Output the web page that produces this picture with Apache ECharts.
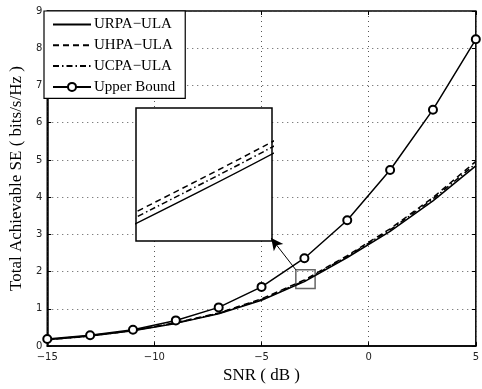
<!DOCTYPE html>
<html>
<head>
<meta charset="utf-8">
<script src="https://cdn.jsdelivr.net/npm/echarts@6/dist/echarts.min.js"></script>
<style>
  html, body { margin: 0; padding: 0; background: #fff; }
  #chart { width: 482px; height: 389px; }
</style>
</head>
<body>
<div id="chart"></div>
<script>
// values, SNR in dB
const snr = [-15, -13, -11, -9, -7, -5, -3, -1, 1, 3, 5];
const urpa = [0.17, 0.27, 0.41, 0.61, 0.87, 1.23, 1.73, 2.38, 3.08, 3.90, 4.84];
const uhpa = [0.17, 0.28, 0.42, 0.63, 0.89, 1.27, 1.775, 2.43, 3.15, 3.99, 4.96];
const ucpa = [0.17, 0.27, 0.42, 0.62, 0.88, 1.25, 1.755, 2.41, 3.12, 3.95, 4.90];
const upper = [0.19, 0.29, 0.44, 0.69, 1.04, 1.59, 2.36, 3.38, 4.73, 6.35, 8.24];

const names = ['URPA\u2212ULA', 'UHPA\u2212ULA', 'UCPA\u2212ULA', 'Upper Bound'];
const xTicks = [-15, -10, -5, 0, 5];
const yTicks = [0, 1, 2, 3, 4, 5, 6, 7, 8, 9];

// zoomed region shown in the inset
const zoomX = [-3.4, -2.5];
const zoomY = [1.55, 2.05];
const insetCorner = [-4.55, 2.9];

const serif = 'Liberation Serif';
const sans = 'DejaVu Sans';

const pairs = (ys) => snr.map((x, i) => [x, ys[i]]);
const minus = (v) => String(v).replace('-', '\u2212');

const dashes = ['solid', [6, 4], [6, 3, 1.5, 3], 'solid'];
const sets = [urpa, uhpa, ucpa, upper];

const myChart = echarts.init(document.getElementById('chart'));

const mainSeries = sets.map((ys, i) => ({
  name: names[i],
  type: 'line',
  xAxisIndex: 0,
  yAxisIndex: 0,
  data: pairs(ys),
  symbol: i === 3 ? 'emptyCircle' : 'none',
  symbolSize: 8,
  itemStyle: { color: '#000', borderWidth: 1.4 },
  lineStyle: { color: '#000', width: 1.5, type: dashes[i] },
  z: 2,
}));

// zoom box and arrow, attached to the first series
mainSeries[0].markArea = {
  silent: true,
  itemStyle: { color: 'rgba(0,0,0,0)', borderColor: '#666', borderWidth: 1.5 },
  data: [[{ coord: [zoomX[0], zoomY[1]] }, { coord: [zoomX[1], zoomY[0]] }]],
};
mainSeries[0].markLine = {
  silent: true,
  symbol: ['none', 'arrow'],
  symbolSize: [9, 12],
  label: { show: false },
  lineStyle: { color: '#000', width: 1, type: 'solid' },
  data: [[{ coord: [zoomX[0], zoomY[1]] }, { coord: insetCorner }]],
};

const insetSeries = sets.slice(0, 3).map((ys, i) => ({
  name: names[i],
  type: 'line',
  xAxisIndex: 2,
  yAxisIndex: 2,
  data: pairs(ys),
  symbol: 'none',
  smooth: 0.5,
  clip: true,
  lineStyle: { color: '#000', width: 1.5, type: dashes[i] },
  z: 6,
}));

const legendData = names.map((n, i) => (
  i === 3 ? { name: n } : { name: n, itemStyle: { opacity: 0 } }
));

const option = {
  animation: false,
  backgroundColor: '#fff',
  grid: [
    {
      left: 43, right: 1, top: 11, bottom: 39,
      show: true, borderColor: '#000', borderWidth: 1.5,
    },
    {
      left: 136, top: 108, width: 136, height: 133,
      show: true, backgroundColor: '#fff', borderColor: '#000', borderWidth: 1.5,
      z: 4,
    },
  ],
  legend: {
    data: legendData,
    orient: 'vertical',
    left: 44,
    top: 11,
    padding: [6, 10, 4, 8],
    itemWidth: 38,
    itemHeight: 10,
    itemGap: 5.8,
    backgroundColor: '#fff',
    borderColor: '#000',
    borderWidth: 1.2,
    borderRadius: 0,
    selectedMode: false,
    textStyle: { fontFamily: serif, fontSize: 15, color: '#000', padding: [0, 0, 0, -2] },
    z: 10,
  },
  xAxis: [
    {
      type: 'value',
      gridIndex: 0,
      min: xTicks[0],
      max: xTicks[xTicks.length - 1],
      interval: 5,
      name: 'SNR ( dB )',
      nameLocation: 'middle',
      nameGap: 19,
      nameTextStyle: { fontFamily: serif, fontSize: 17, color: '#000' },
      axisLine: { show: true, onZero: false, lineStyle: { color: '#000', width: 1.5 } },
      axisTick: { inside: true, length: 4, lineStyle: { color: '#000' } },
      axisLabel: { fontFamily: sans, fontSize: 10, color: '#222', margin: 6, formatter: minus },
      splitLine: { show: true, lineStyle: { color: '#555', type: [1, 4], width: 1 } },
    },
    {
      type: 'value',
      gridIndex: 0,
      position: 'top',
      min: xTicks[0],
      max: xTicks[xTicks.length - 1],
      interval: 5,
      axisLine: { show: false, onZero: false },
      axisTick: { inside: true, length: 4, lineStyle: { color: '#000' } },
      axisLabel: { show: false },
      splitLine: { show: false },
    },
    {
      type: 'value',
      gridIndex: 1,
      min: zoomX[0],
      max: zoomX[1],
      show: false,
    },
  ],
  yAxis: [
    {
      type: 'value',
      gridIndex: 0,
      min: yTicks[0],
      max: yTicks[yTicks.length - 1],
      interval: 1,
      name: 'Total Achievable SE ( bits/s/Hz )',
      nameLocation: 'middle',
      nameGap: 16,
      nameTextStyle: { fontFamily: serif, fontSize: 17, color: '#000' },
      axisLine: { show: true, onZero: false, lineStyle: { color: '#000', width: 1.5 } },
      axisTick: { inside: true, length: 4, lineStyle: { color: '#000' } },
      axisLabel: { fontFamily: sans, fontSize: 10, color: '#222', margin: 5 },
      splitLine: { show: true, lineStyle: { color: '#555', type: [1, 4], width: 1 } },
    },
    {
      type: 'value',
      gridIndex: 0,
      position: 'right',
      min: yTicks[0],
      max: yTicks[yTicks.length - 1],
      interval: 1,
      axisLine: { show: false, onZero: false },
      axisTick: { inside: true, length: 4, lineStyle: { color: '#000' } },
      axisLabel: { show: false },
      splitLine: { show: false },
    },
    {
      type: 'value',
      gridIndex: 1,
      min: zoomY[0],
      max: zoomY[1],
      show: false,
    },
  ],
  series: mainSeries.concat(insetSeries),
};

myChart.setOption(option);
</script>
</body>
</html>
